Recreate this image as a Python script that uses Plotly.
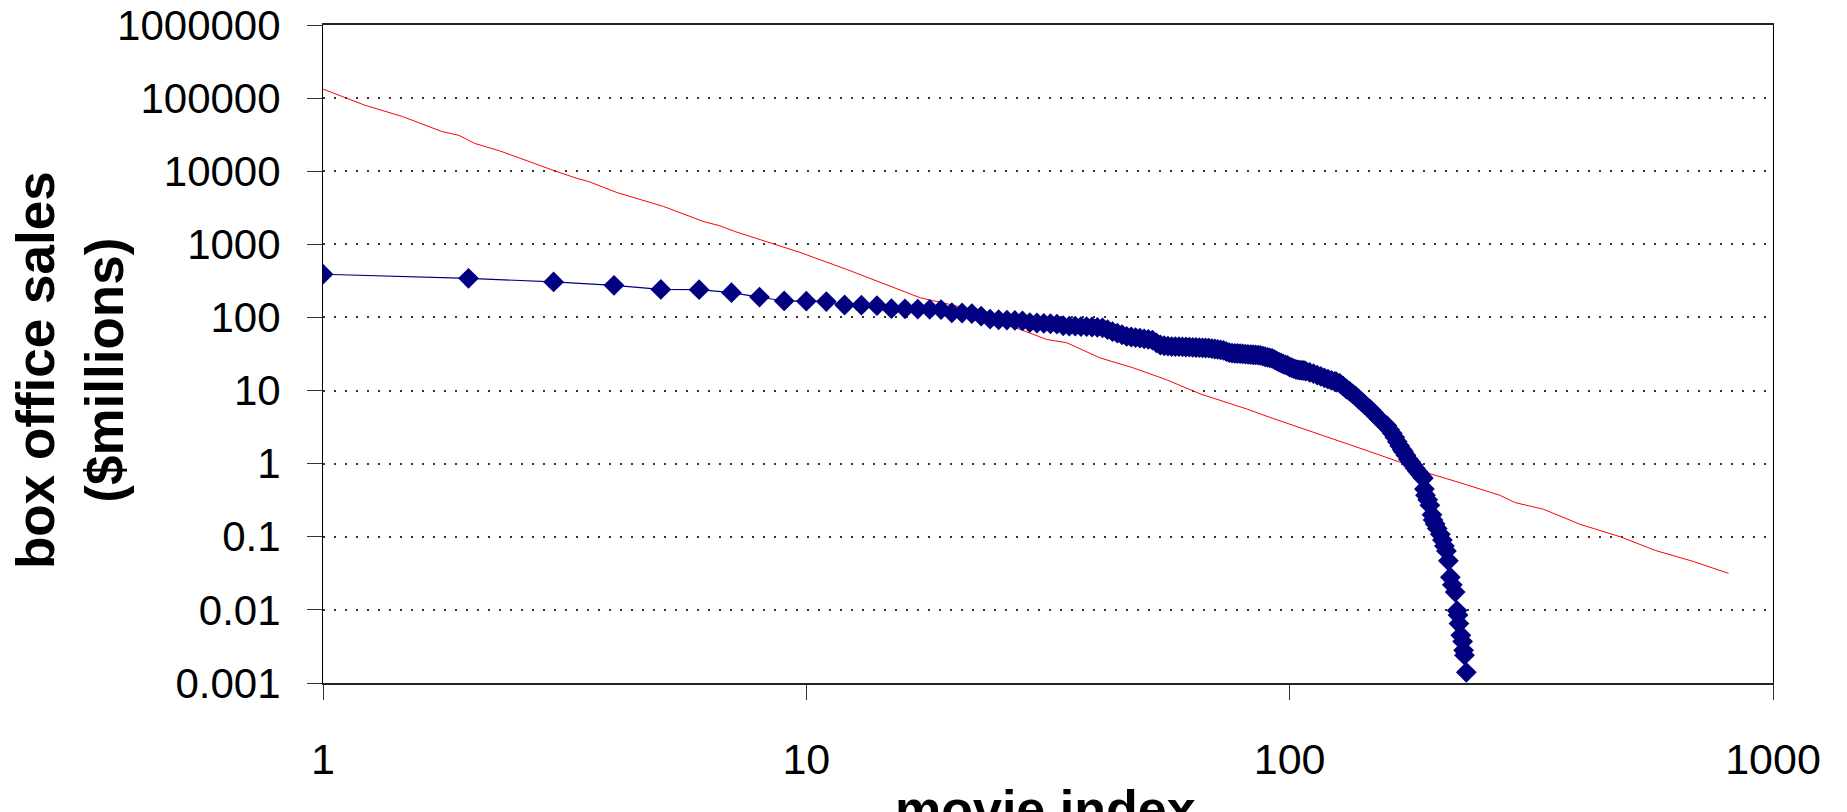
import plotly.graph_objects as go

# ---- data ----
blue_index = list(range(1, 108)) + [108, 110, 112, 114, 116, 118, 120, 122, 124, 125, 127, 129, 131, 133, 135,
    137, 139, 141, 143, 145, 147, 149, 151, 153, 155, 157, 159, 161, 163, 165, 167, 169, 171, 172, 174, 176,
    178, 180, 182, 184, 186, 188, 189, 190, 191, 193, 195, 197, 198, 200, 202, 205, 207, 209, 211, 213, 215,
    217, 220, 222, 223, 224, 226, 228, 229, 230, 232]
blue_sales = [390, 343, 306, 275, 242, 240, 218, 190, 168, 167,
    165, 148, 147, 145, 132, 131, 130, 129, 128, 116,
    115, 113, 104, 95, 93, 92, 91, 90, 85, 84,
    83, 82, 81, 77, 76, 76, 75, 75, 74, 73,
    72, 68, 64, 61, 58, 55, 54, 53, 52, 51,
    50, 49, 45, 42, 41,
    40.5, 40, 40, 39.8, 39.6, 39.4, 39.2, 39, 38.8, 38.6, 38.4, 38.2, 38, 37.5,
    37, 36.5, 36, 35.5, 34, 33,
    32.5, 32.3, 32.1, 31.9, 31.7, 31.5, 31.3, 31.1, 30.9, 30.7, 30.5, 30.2,
    29.5, 29, 28.5, 28, 27.5, 26.5, 25.5, 24.5, 23.8, 23, 22.5, 22, 21, 20.5, 20, 19.5, 19.2, 19, 18.9, 18.8,
    18.4, 17.7, 17, 16.3, 15.6, 14.9, 14.3, 13.8, 13.3, 13.1, 12.5, 11.5, 10.5, 9.8, 9.0,
    8.4, 7.6, 7.0, 6.4, 5.9, 5.5, 5.0, 4.5, 4.1, 3.8, 3.5, 3.3, 2.9, 2.6, 2.3, 2.0, 1.75, 1.55, 1.45, 1.3, 1.15,
    1.05, 0.95, 0.86, 0.78, 0.72, 0.66, 0.63, 0.45, 0.37, 0.32, 0.27, 0.2, 0.17, 0.15, 0.13, 0.108, 0.09, 0.075,
    0.064, 0.047, 0.028, 0.022, 0.0175, 0.0098, 0.0085, 0.0065, 0.0045, 0.0037, 0.0028, 0.0024, 0.0014]

red_index = [1, 1.22, 1.46, 1.76, 1.91, 2.06, 2.32, 2.79, 3.03, 3.35, 3.55, 4.06, 4.53, 5.06, 6.14, 6.61,
    7.11, 8.64, 9.7, 12.1, 14.9, 17.2, 20.5, 23.6, 27.2, 31.4, 34.6, 40.5, 47.5, 55.7, 65.3, 81.5, 91,
    107, 125, 147, 169, 195, 222, 248, 272, 293, 335, 399, 483, 571, 684, 809]
red_sales = [133000, 80000, 56000, 35000, 31000, 24000, 19000, 12000, 10000, 8000, 7200, 5100, 4150, 3300,
    2040, 1800, 1500, 1000, 776, 456, 269, 186, 143, 98, 72, 50, 45, 28, 20.4, 14, 9.0, 5.6, 4.3,
    3.0, 2.08, 1.45, 1.05, 0.73, 0.565, 0.454, 0.37, 0.293, 0.238, 0.148, 0.1, 0.065, 0.046, 0.0316]

y_tickvals = [0.001, 0.01, 0.1, 1, 10, 100, 1000, 10000, 100000, 1000000]
y_ticktext = ["0.001", "0.01", "0.1", "1", "10", "100", "1000", "10000", "100000", "1000000"]
x_tickvals = [1, 10, 100, 1000]
x_ticktext = ["1", "10", "100", "1000"]

FONT = "Liberation Sans, Arial, sans-serif"

fig = go.Figure()
fig.add_trace(go.Scatter(x=red_index, y=red_sales, mode="lines",
                         line=dict(color="#FF0000", width=1), showlegend=False))
fig.add_trace(go.Scatter(x=blue_index, y=blue_sales, mode="lines+markers",
                         line=dict(color="#000080", width=1.2),
                         marker=dict(symbol="diamond", size=16, color="#000080"),
                         showlegend=False))

W, H = 1847, 812
L, R, T, B = 323, 74, 25, 129
pw, ph = W - L - R, H - T - B

fig.update_layout(
    width=W, height=H,
    margin=dict(l=L, r=R, t=T, b=B, autoexpand=False),
    paper_bgcolor="white", plot_bgcolor="white",
    font=dict(family=FONT, color="black"),
    xaxis=dict(type="log", range=[0, 3], tickvals=x_tickvals, ticktext=x_ticktext,
               tickfont=dict(size=43, family=FONT, color="black"),
               ticks="outside", ticklen=15, tickwidth=1, tickcolor="#333",
               showline=True, linecolor="#222", linewidth=2, mirror=True,
               showgrid=False, zeroline=False, ticklabelstandoff=22),
    yaxis=dict(type="log", range=[-3, 6], tickvals=y_tickvals, ticktext=y_ticktext,
               tickfont=dict(size=42, family=FONT, color="black"),
               ticks="outside", ticklen=15, tickwidth=1, tickcolor="#333",
               showline=True, linecolor="black", linewidth=1, mirror=True,
               showgrid=True, gridcolor="#333333", gridwidth=1.5, griddash="2px,9px",
               zeroline=False, ticklabelstandoff=18),
    annotations=[
        dict(text="<b>box office sales<br>($millions)</b>", textangle=-90,
             xref="paper", yref="paper", x=(70 - L) / pw, y=(H - B - 370) / ph,
             xanchor="center", yanchor="middle", showarrow=False,
             font=dict(size=53, family=FONT, color="black")),
        dict(text="<b>movie index</b>",
             xref="paper", yref="paper", x=(1045 - L) / pw, y=(H - B - 778) / ph,
             xanchor="center", yanchor="top", showarrow=False,
             font=dict(size=52, family=FONT, color="black")),
    ],
)

fig.write_html("out.html")
